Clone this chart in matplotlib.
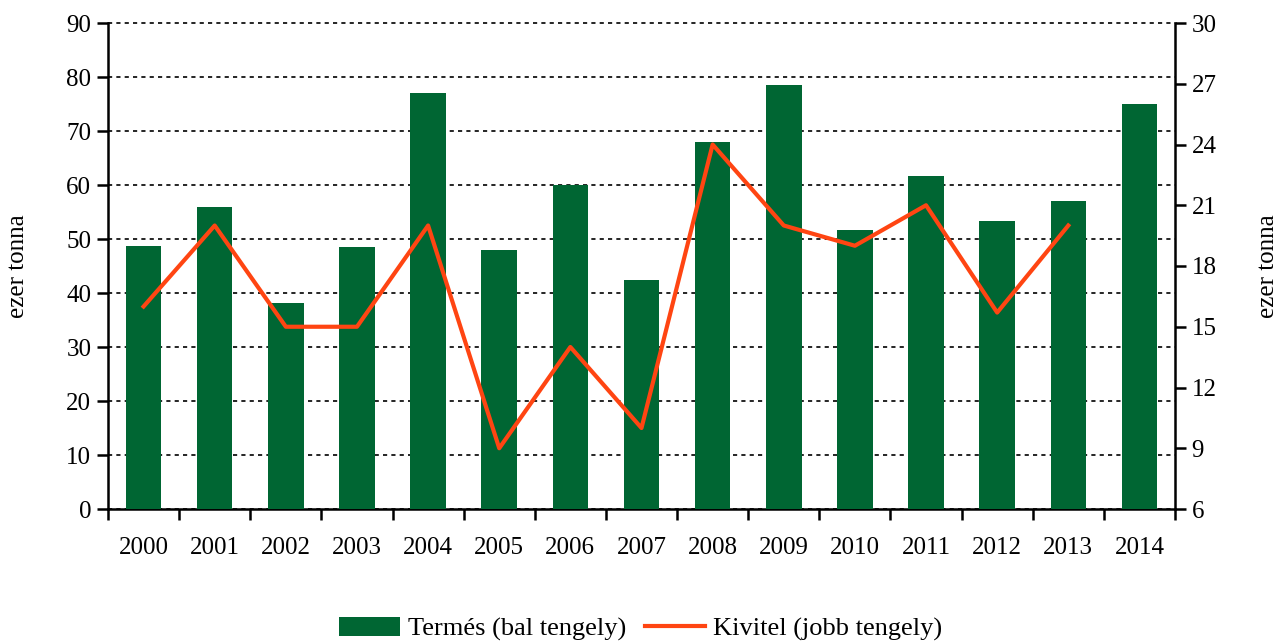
import numpy as np
import matplotlib
matplotlib.use('Agg')
import matplotlib.pyplot as plt
from matplotlib.ticker import MultipleLocator

##字体
plt.rcParams['font.family'] = ['Liberation Serif', 'DejaVu Serif']

##数据
years = ['2000', '2001', '2002', '2003', '2004', '2005', '2006', '2007',
         '2008', '2009', '2010', '2011', '2012', '2013', '2014']
termes = [48.7, 55.9, 38.1, 48.5, 77.0, 48.0, 60.0, 42.4, 68.0, 78.5,
          51.7, 61.7, 53.3, 57.0, 75.0]
kivitel = [16.0, 20.0, 15.0, 15.0, 20.0, 9.0, 14.0, 10.0, 24.0, 20.0,
           19.0, 21.0, 15.7, 20.0, np.nan]

green = '#006633'
orange = '#FF4512'

fig = plt.figure(figsize=(12.82, 6.41), dpi=100)
ax = fig.add_axes([108/1282, 1-509/641, (1175-108)/1282, (509-23)/641])
ax2 = ax.twinx()

x = np.arange(len(years))
b = ax.bar(x, termes, width=0.5, color=green, zorder=3, label='Termés (bal tengely)')
l, = ax2.plot(x, kivitel, color=orange, lw=3, zorder=4, label='Kivitel (jobb tengely)')

ax.set_xlim(-0.5, len(years) - 0.5)
ax.set_ylim(0, 90)
ax.yaxis.set_major_locator(MultipleLocator(10))
ax2.set_ylim(6, 30)
ax2.yaxis.set_major_locator(MultipleLocator(3))

##网格
ax.grid(axis='y', color='black', linestyle=(0, (2.5, 2.5)), linewidth=1.2, zorder=0)
for g in ax.get_ygridlines():
    g.set_clip_on(False)
ax.set_axisbelow(True)

##x轴刻度在类别之间
ax.set_xticks(np.arange(-0.5, len(years)), minor=False)
ax.set_xticklabels([])
ax.set_xticks(x, minor=True)
ax.set_xticklabels(years, minor=True)
ax.tick_params(axis='x', which='major', direction='out', length=8, width=1.8)
ax.tick_params(axis='x', which='minor', length=0, pad=20, labelsize=18)
ax.tick_params(axis='y', direction='out', length=8, width=1.8, labelsize=18, pad=4)
ax2.tick_params(axis='y', direction='out', length=8, width=1.8, labelsize=18, pad=4)

for a in (ax, ax2):
    a.spines['top'].set_visible(False)
    for s in ('left', 'right', 'bottom'):
        a.spines[s].set_linewidth(1.8)
ax.spines['right'].set_visible(False)
ax2.spines['left'].set_visible(False)
ax2.spines['bottom'].set_visible(False)

fig.text(18/1282, 1-266/641, 'ezer tonna', rotation=90, ha='center', va='center', fontsize=18)
fig.text(1268/1282, 1-266/641, 'ezer tonna', rotation=90, ha='center', va='center', fontsize=18)

fig.legend(handles=[b, l], loc='center', bbox_to_anchor=(0.5, 1-629/641), ncol=2,
           frameon=False, fontsize=19, handlelength=2.3, handletextpad=0.3,
           columnspacing=0.7)

plt.savefig('out.png', dpi=100)
